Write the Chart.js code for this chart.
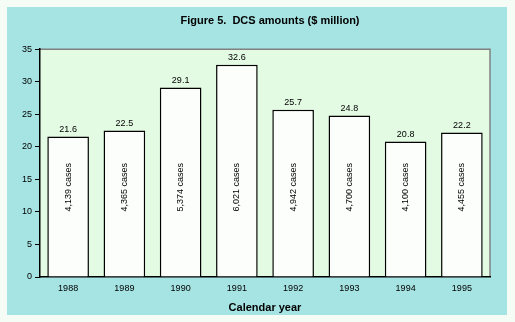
<!DOCTYPE html>
<html>
<head>
<meta charset="utf-8">
<script src="https://cdn.jsdelivr.net/npm/chart.js@4.4.0/dist/chart.umd.min.js"></script>
<style>
  body { margin: 0; background: #f5fbf5; }
  canvas { display: block; }
</style>
</head>
<body>
<canvas id="chart" width="515" height="322"></canvas>
<script>
// data
var years = ['1988', '1989', '1990', '1991', '1992', '1993', '1994', '1995'];
var amounts = [21.6, 22.5, 29.1, 32.6, 25.7, 24.8, 20.8, 22.2];
var cases = ['4,139', '4,365', '5,374', '6,021', '4,942', '4,700', '4,100', '4,455'];

Chart.defaults.font.family = "'Liberation Sans', Arial, sans-serif";
Chart.defaults.color = '#000';

// cyan panel, green plot area and the value / case labels
var panelPlugin = {
  id: 'panel',
  beforeDraw: function (chart) {
    var ctx = chart.ctx, a = chart.chartArea;
    ctx.save();
    ctx.fillStyle = '#a6e3e3';
    ctx.fillRect(7, 7, 500, 308);
    ctx.fillStyle = '#e3fae3';
    ctx.fillRect(a.left, a.top, a.right - a.left, a.bottom - a.top);
    ctx.strokeStyle = '#808080';
    ctx.lineWidth = 1.5;
    ctx.beginPath();
    ctx.moveTo(a.left, a.top);
    ctx.lineTo(a.right, a.top);
    ctx.lineTo(a.right, a.bottom);
    ctx.stroke();
    ctx.restore();
  },
  afterDatasetsDraw: function (chart) {
    var ctx = chart.ctx;
    var meta = chart.getDatasetMeta(0);
    var yScale = chart.scales.y;
    ctx.save();
    ctx.fillStyle = '#000';
    ctx.textAlign = 'center';
    ctx.textBaseline = 'middle';
    ctx.font = "9px 'Liberation Sans', Arial, sans-serif";
    meta.data.forEach(function (bar, i) {
      ctx.fillText(amounts[i].toFixed(1), bar.x, bar.y - 7);
      ctx.save();
      ctx.translate(bar.x, yScale.getPixelForValue(13.8));
      ctx.rotate(-Math.PI / 2);
      ctx.fillText(cases[i] + ' cases', 0, 0);
      ctx.restore();
    });
    ctx.restore();
  }
};

new Chart(document.getElementById('chart'), {
  type: 'bar',
  data: {
    labels: years,
    datasets: [{
      data: amounts,
      backgroundColor: '#fcfefc',
      borderColor: '#000',
      borderWidth: 1.5,
      barPercentage: 0.74,
      categoryPercentage: 1
    }]
  },
  options: {
    responsive: false,
    animation: false,
    layout: { padding: { left: 7, right: -18, top: 0, bottom: 7 } },
    plugins: {
      legend: { display: false },
      tooltip: { enabled: false },
      title: {
        display: true,
        text: 'Figure 5.  DCS amounts ($ million)',
        color: '#000',
        font: { size: 11, weight: 'bold' },
        padding: { top: 14, bottom: 22 }
      }
    },
    scales: {
      x: {
        grid: { display: false, drawTicks: false },
        border: { color: '#000', width: 1.5 },
        ticks: { color: '#000', font: { size: 9 }, padding: 6 },
        title: {
          display: true,
          text: 'Calendar year',
          color: '#000',
          font: { size: 11, weight: 'bold' },
          padding: { top: 4, bottom: 0 }
        },
        afterFit: function (s) { s.height = 38; }
      },
      y: {
        min: 0,
        max: 35,
        ticks: { stepSize: 5, color: '#000', font: { size: 9 }, padding: 3 },
        grid: { drawOnChartArea: false, color: '#000', tickLength: 5 },
        border: { color: '#000', width: 1.5 },
        afterFit: function (s) { s.width = 33; }
      },
      yR: {
        position: 'right',
        display: true,
        ticks: { display: false },
        grid: { display: false },
        border: { display: false },
        afterFit: function (s) { s.width = 43; }
      }
    }
  },
  plugins: [panelPlugin]
});
</script>
</body>
</html>
